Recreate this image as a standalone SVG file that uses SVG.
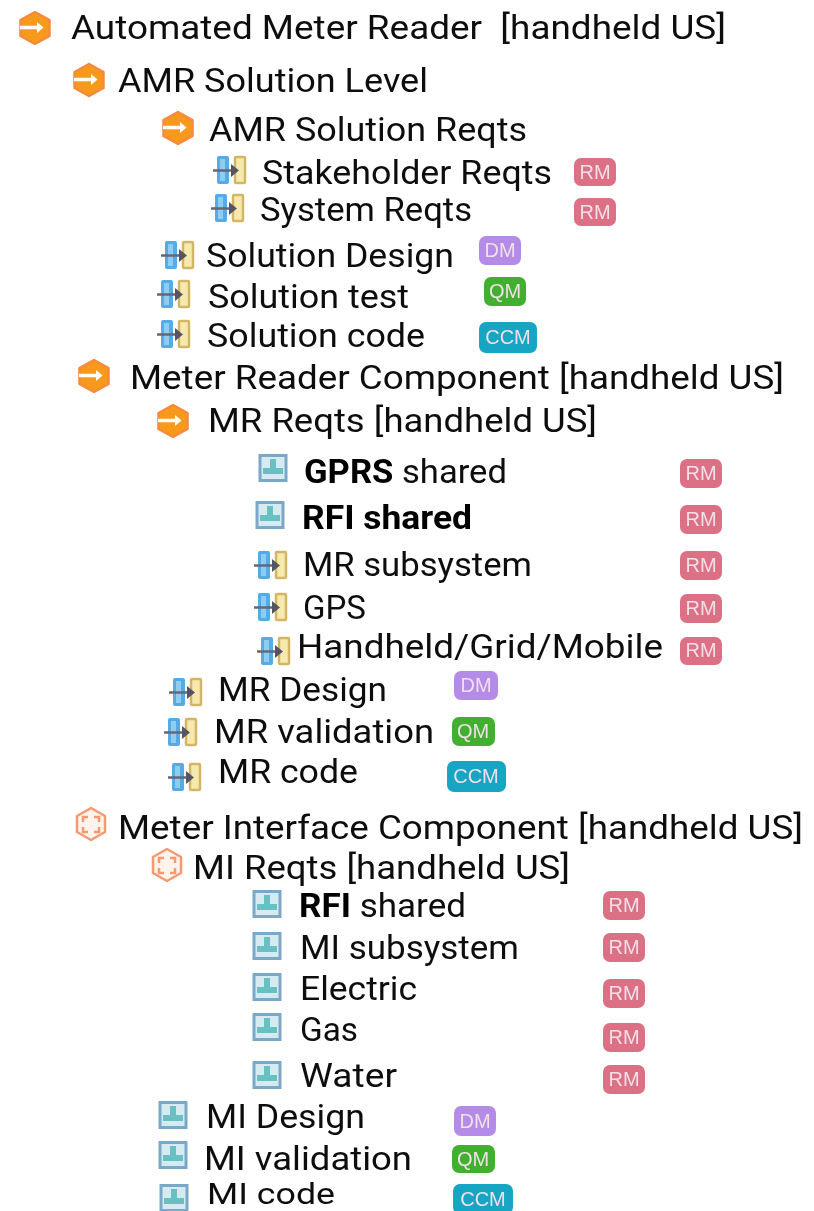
<svg xmlns="http://www.w3.org/2000/svg" width="814" height="1211" viewBox="0 0 814 1211">
<style>
text{font-family:Roboto,"Open Sans","Liberation Sans",sans-serif;font-size:33px;fill:#111;}
.b{font-weight:700;fill:#000}
text.s{font-size:29px}
text.t{font-family:"Liberation Sans",Arial,sans-serif;font-size:20px;fill:#f2dfe8;text-anchor:middle;}
.rm{fill:#dc6f85}.dm{fill:#b58be8}.qm{fill:#3fb02f}.ccm{fill:#13a5c3}
</style>
<defs>
<filter id="soft" x="-2%" y="-2%" width="104%" height="104%"><feGaussianBlur stdDeviation="0.65"/></filter>
<symbol id="hex" overflow="visible"><path d="M0-16 14.500-8V8L0 16-14.500 8V-8Z" fill="#f79a1c" stroke="#f58a3c" stroke-width="2.500" stroke-linejoin="round"/><path d="M-15-.5H5" stroke="#fff" stroke-width="3.500"/><path d="M2-6 8.500-.5 2 5Z" fill="#fff"/></symbol>
<symbol id="hexo" overflow="visible"><path d="M0-16 14-8V8L0 16-14 8V-8Z" fill="#fff3ec" stroke="#f49a72" stroke-width="2.500" stroke-linejoin="round"/><path d="M-8-2V-7H-3M3-7H8V-2M8 3V8H3M-3 8H-8V3" fill="none" stroke="#f49a72" stroke-width="2.500"/></symbol>
<symbol id="link" overflow="visible"><rect x="-12" y="-14" width="12" height="28" rx="2" fill="#55ace4"/><rect x="-9" y="-11" width="5" height="22" fill="#8fcdf0"/><rect x="6" y="-13" width="10" height="26" rx="1" fill="#f6e9ae" stroke="#d2b665" stroke-width="2.500"/><path d="M-16 .5H6" stroke="#667" stroke-width="2.500"/><path d="M2-6 10 .5 2 7Z" fill="#556"/></symbol>
<symbol id="box" overflow="visible"><rect x="-13" y="-12.500" width="26" height="25" fill="#d5ebf1" stroke="#7aa8c6" stroke-width="3"/><rect x="-3" y="-9" width="6" height="9" fill="#67c0c2"/><rect x="-10" y="0" width="20" height="6" fill="#67c0c2"/></symbol>
</defs>
<g filter="url(#soft)">
<g id="connectors"></g>
<g id="n1"><use href="#hex" x="35" y="28"/><text x="71" y="39" textLength="655" lengthAdjust="spacingAndGlyphs" xml:space="preserve">Automated Meter Reader  [handheld US]</text></g>
<g id="n2"><use href="#hex" x="89" y="80"/><text x="118" y="92" textLength="310" lengthAdjust="spacingAndGlyphs">AMR Solution Level</text></g>
<g id="n3"><use href="#hex" x="178" y="128"/><text x="209" y="141" textLength="318" lengthAdjust="spacingAndGlyphs">AMR Solution Reqts</text></g>
<g id="n4"><use href="#link" x="229" y="170"/><text x="262" y="184" textLength="290" lengthAdjust="spacingAndGlyphs">Stakeholder Reqts</text><rect class="rm" x="574" y="158" width="42" height="28" rx="7"/><text class="t" x="595" y="179">RM</text></g>
<g id="n5"><use href="#link" x="227" y="208"/><text x="260" y="221" textLength="212" lengthAdjust="spacingAndGlyphs">System Reqts</text><rect class="rm" x="574" y="198" width="42" height="28" rx="7"/><text class="t" x="595" y="219">RM</text></g>
<g id="n6"><use href="#link" x="177" y="255"/><text x="206" y="267" textLength="248" lengthAdjust="spacingAndGlyphs">Solution Design</text><rect class="dm" x="479" y="236" width="42" height="29" rx="7"/><text class="t" x="500" y="257">DM</text></g>
<g id="n7"><use href="#link" x="173" y="294"/><text x="208" y="308" textLength="201" lengthAdjust="spacingAndGlyphs">Solution test</text><rect class="qm" x="484" y="277" width="42" height="29" rx="7"/><text class="t" x="505" y="298">QM</text></g>
<g id="n8"><use href="#link" x="173" y="334"/><text x="207" y="347" textLength="218" lengthAdjust="spacingAndGlyphs">Solution code</text><rect class="ccm" x="479" y="322" width="58" height="31" rx="7"/><text class="t" x="508" y="344">CCM</text></g>
<g id="n9"><use href="#hex" x="94" y="376"/><text x="130" y="389" textLength="654" lengthAdjust="spacingAndGlyphs">Meter Reader Component [handheld US]</text></g>
<g id="n10"><use href="#hex" x="173" y="421"/><text x="208" y="432" textLength="389" lengthAdjust="spacingAndGlyphs">MR Reqts [handheld US]</text></g>
<g id="n11"><use href="#box" x="273" y="468"/><text x="304" y="483" textLength="203" lengthAdjust="spacingAndGlyphs"><tspan class="b">GPRS</tspan> shared</text><rect class="rm" x="680" y="459" width="42" height="29" rx="7"/><text class="t" x="701" y="480">RM</text></g>
<g id="n12"><use href="#box" x="270" y="515"/><text class="b" x="302" y="529" textLength="170" lengthAdjust="spacingAndGlyphs">RFI shared</text><rect class="rm" x="680" y="505" width="42" height="29" rx="7"/><text class="t" x="701" y="526">RM</text></g>
<g id="n13"><use href="#link" x="270" y="565"/><text x="303" y="576" textLength="229" lengthAdjust="spacingAndGlyphs">MR subsystem</text><rect class="rm" x="680" y="551" width="42" height="29" rx="7"/><text class="t" x="701" y="572">RM</text></g>
<g id="n14"><use href="#link" x="270" y="607"/><text x="303" y="619" textLength="63" lengthAdjust="spacingAndGlyphs">GPS</text><rect class="rm" x="680" y="594" width="42" height="29" rx="7"/><text class="t" x="701" y="615">RM</text></g>
<g id="n15"><use href="#link" x="273" y="651"/><text x="297" y="658" textLength="366" lengthAdjust="spacingAndGlyphs">Handheld/Grid/Mobile</text><rect class="rm" x="680" y="637" width="42" height="28" rx="7"/><text class="t" x="701" y="657">RM</text></g>
<g id="n16"><use href="#link" x="185" y="692"/><text x="218" y="701" textLength="169" lengthAdjust="spacingAndGlyphs">MR Design</text><rect class="dm" x="454" y="671" width="44" height="29" rx="7"/><text class="t" x="476" y="692">DM</text></g>
<g id="n17"><use href="#link" x="180" y="732"/><text x="214" y="743" textLength="220" lengthAdjust="spacingAndGlyphs">MR validation</text><rect class="qm" x="452" y="717" width="43" height="29" rx="7"/><text class="t" x="473" y="738">QM</text></g>
<g id="n18"><use href="#link" x="184" y="777"/><text x="218" y="783" textLength="140" lengthAdjust="spacingAndGlyphs">MR code</text><rect class="ccm" x="447" y="761" width="59" height="31" rx="7"/><text class="t" x="476" y="783">CCM</text></g>
<g id="n19"><use href="#hexo" x="91" y="824"/><text x="118" y="839" textLength="685" lengthAdjust="spacingAndGlyphs">Meter Interface Component [handheld US]</text></g>
<g id="n20"><use href="#hexo" x="167" y="865"/><text x="193" y="879" textLength="377" lengthAdjust="spacingAndGlyphs">MI Reqts [handheld US]</text></g>
<g id="n21"><use href="#box" x="267" y="904"/><text x="299" y="917" textLength="167" lengthAdjust="spacingAndGlyphs"><tspan class="b">RFI</tspan> shared</text><rect class="rm" x="603" y="891" width="42" height="29" rx="7"/><text class="t" x="624" y="912">RM</text></g>
<g id="n22"><use href="#box" x="267" y="946"/><text x="300" y="959" textLength="219" lengthAdjust="spacingAndGlyphs">MI subsystem</text><rect class="rm" x="603" y="933" width="42" height="29" rx="7"/><text class="t" x="624" y="954">RM</text></g>
<g id="n23"><use href="#box" x="267" y="987"/><text x="300" y="1000" textLength="117" lengthAdjust="spacingAndGlyphs">Electric</text><rect class="rm" x="603" y="979" width="42" height="29" rx="7"/><text class="t" x="624" y="1000">RM</text></g>
<g id="n24"><use href="#box" x="267" y="1027"/><text x="300" y="1041" textLength="58" lengthAdjust="spacingAndGlyphs">Gas</text><rect class="rm" x="603" y="1023" width="42" height="29" rx="7"/><text class="t" x="624" y="1044">RM</text></g>
<g id="n25"><use href="#box" x="267" y="1075"/><text x="300" y="1087" textLength="97" lengthAdjust="spacingAndGlyphs">Water</text><rect class="rm" x="603" y="1065" width="42" height="29" rx="7"/><text class="t" x="624" y="1086">RM</text></g>
<g id="n26"><use href="#box" x="173" y="1115"/><text x="206" y="1128" textLength="159" lengthAdjust="spacingAndGlyphs">MI Design</text><rect class="dm" x="454" y="1106" width="42" height="30" rx="7"/><text class="t" x="475" y="1128">DM</text></g>
<g id="n27"><use href="#box" x="173" y="1155"/><text x="204" y="1170" textLength="208" lengthAdjust="spacingAndGlyphs">MI validation</text><rect class="qm" x="452" y="1145" width="43" height="28" rx="7"/><text class="t" x="473" y="1166">QM</text></g>
<g id="n28"><use href="#box" x="174" y="1198"/><text class="s" x="207" y="1204" textLength="128" lengthAdjust="spacingAndGlyphs">MI code</text><rect class="ccm" x="453" y="1184" width="60" height="30" rx="7"/><text class="t" x="483" y="1206">CCM</text></g>
</g>
</svg>
